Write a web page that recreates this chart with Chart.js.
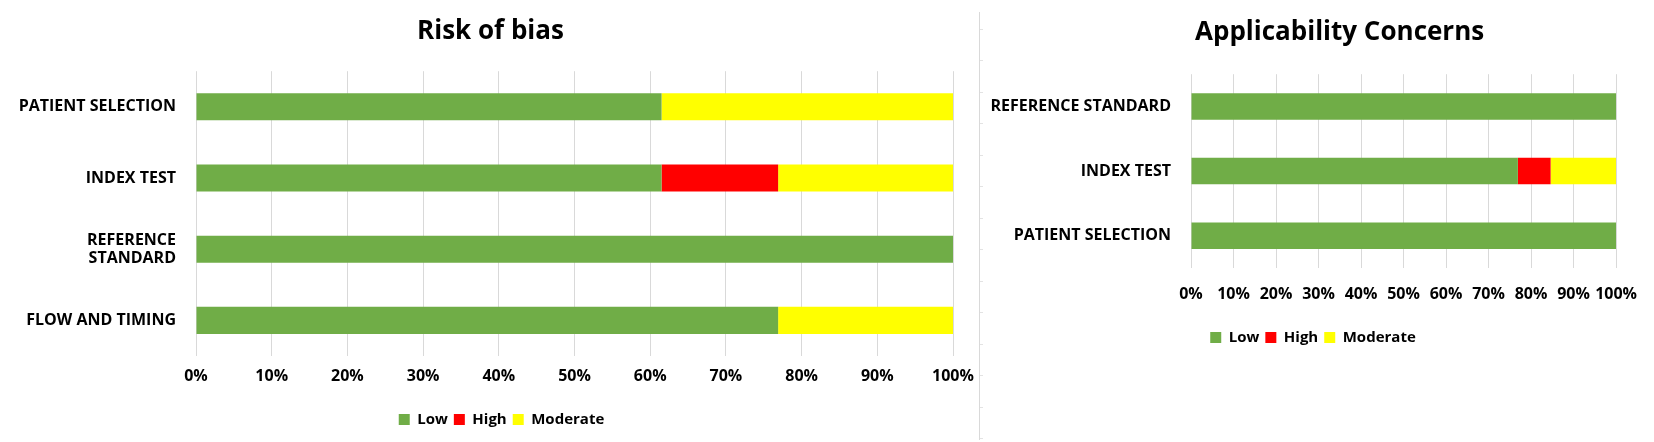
<!DOCTYPE html>
<html lang="en">
<head>
    <meta charset="UTF-8">
    <title>Risk of bias / Applicability Concerns</title>
    <script src="https://cdn.jsdelivr.net/npm/chart.js"></script>
    <style>
        body {
            margin: 0;
            background: #fff;
            width: 1654px;
            height: 442px;
            position: relative;
            overflow: hidden;
        }
        #risk-chart { position: absolute; left: 0; top: 0; }
        #applic-chart { position: absolute; left: 985px; top: 0; }
        .divider {
            position: absolute;
            left: 979px;
            top: 12px;
            width: 1px;
            height: 428px;
            background: #d9d9d9;
        }
        .divider-ticks {
            position: absolute;
            left: 980px;
            top: 29px;
            width: 3px;
            height: 410px;
            background: repeating-linear-gradient(to bottom, #e3e3e3 0 1px, transparent 1px 31.5px);
        }
    </style>
</head>
<body>
    <div class="divider"></div>
    <div class="divider-ticks"></div>
    <canvas id="risk-chart" width="990" height="442"></canvas>
    <canvas id="applic-chart" width="669" height="442"></canvas>

    <script>
        // values (13 studies -> 61.5%, 15.4%, 76.9% ...)
        const riskCategories = ['PATIENT SELECTION', 'INDEX TEST', ['REFERENCE', 'STANDARD'], 'FLOW AND TIMING'];
        const riskLow = [61.5, 61.5, 100, 76.9];
        const riskHigh = [0, 15.4, 0, 0];
        const riskModerate = [38.5, 23.1, 0, 23.1];

        const applicCategories = ['REFERENCE STANDARD', 'INDEX TEST', 'PATIENT SELECTION'];
        const applicLow = [100, 76.9, 100];
        const applicHigh = [0, 7.7, 0];
        const applicModerate = [0, 15.4, 0];

        const seriesNames = ['Low', 'High', 'Moderate'];
        const seriesColors = ['#70AD47', '#FF0000', '#FFFF00'];

        const FONT = "'Open Sans', 'DejaVu Sans', sans-serif";

        // nudge title / legend sideways (excel centres them on its own box, not the canvas)
        const shiftBoxes = {
            id: 'shiftBoxes',
            afterLayout(chart, args, o) {
                if (chart.titleBlock && o.title) {
                    chart.titleBlock.left += o.title;
                    chart.titleBlock.right += o.title;
                }
                if (chart.legend && o.legend) {
                    chart.legend.left += o.legend;
                    chart.legend.right += o.legend;
                }
            }
        };

        function makeChart(id, title, categories, values, opts) {
            const ctx = document.getElementById(id).getContext('2d');
            return new Chart(ctx, {
                type: 'bar',
                data: {
                    labels: categories,
                    datasets: values.map((v, i) => ({
                        label: seriesNames[i],
                        data: v,
                        backgroundColor: seriesColors[i],
                        borderWidth: 0,
                        barPercentage: opts.barPct,
                        categoryPercentage: 1
                    }))
                },
                plugins: [shiftBoxes],
                options: {
                    indexAxis: 'y',
                    responsive: false,
                    animation: false,
                    layout: {
                        padding: { left: opts.padLeft, right: opts.padRight, top: 0, bottom: opts.padBottom }
                    },
                    scales: {
                        x: {
                            stacked: true,
                            min: 0,
                            max: 100,
                            grid: { color: '#d9d9d9', lineWidth: 1, drawTicks: false },
                            border: { display: false },
                            ticks: {
                                stepSize: 10,
                                autoSkip: false,
                                maxRotation: 0,
                                padding: opts.xTickPad,
                                color: '#000',
                                font: { family: FONT, size: 16, weight: 'bold' },
                                callback: (val) => val + '%'
                            },
                            afterFit: (scale) => { scale.height = opts.xHeight; }
                        },
                        y: {
                            stacked: true,
                            grid: { display: false },
                            border: { display: false },
                            ticks: {
                                padding: opts.yTickPad,
                                color: '#000',
                                font: { family: FONT, size: 16, weight: 'bold', lineHeight: 1.15 }
                            },
                            afterFit: (scale) => { scale.width = opts.yWidth; }
                        }
                    },
                    plugins: {
                        title: {
                            display: true,
                            text: title,
                            color: '#000',
                            align: opts.titleAlign,
                            fullSize: opts.titleFull,
                            font: { family: FONT, size: 26, weight: 'bold' },
                            padding: opts.titlePad
                        },
                        legend: {
                            position: 'bottom',
                            labels: {
                                boxWidth: 11,
                                boxHeight: 11,
                                padding: 6,
                                color: '#000',
                                font: { family: FONT, size: 15, weight: 'bold' }
                            }
                        },
                        shiftBoxes: opts.shift,
                        tooltip: { enabled: false }
                    }
                }
            });
        }

        makeChart('risk-chart', 'Risk of bias', riskCategories,
            [riskLow, riskHigh, riskModerate], {
                barPct: 0.38,
                padLeft: 8, padRight: 37, padBottom: 5,
                yWidth: 188, yTickPad: 12,
                xHeight: 50, xTickPad: 11,
                titleAlign: 'center', titleFull: true,
                titlePad: { top: 16, bottom: 24 },
                shift: { title: 10, legend: 21 }
            });

        makeChart('applic-chart', 'Applicability Concerns', applicCategories,
            [applicLow, applicHigh, applicModerate], {
                barPct: 0.41,
                padLeft: 3, padRight: 34, padBottom: 87,
                yWidth: 203, yTickPad: 12,
                xHeight: 56, xTickPad: 17,
                titleAlign: 'start', titleFull: false,
                titlePad: { top: 17, bottom: 26 },
                shift: { title: 4, legend: 9 }
            });
    </script>
</body>
</html>
